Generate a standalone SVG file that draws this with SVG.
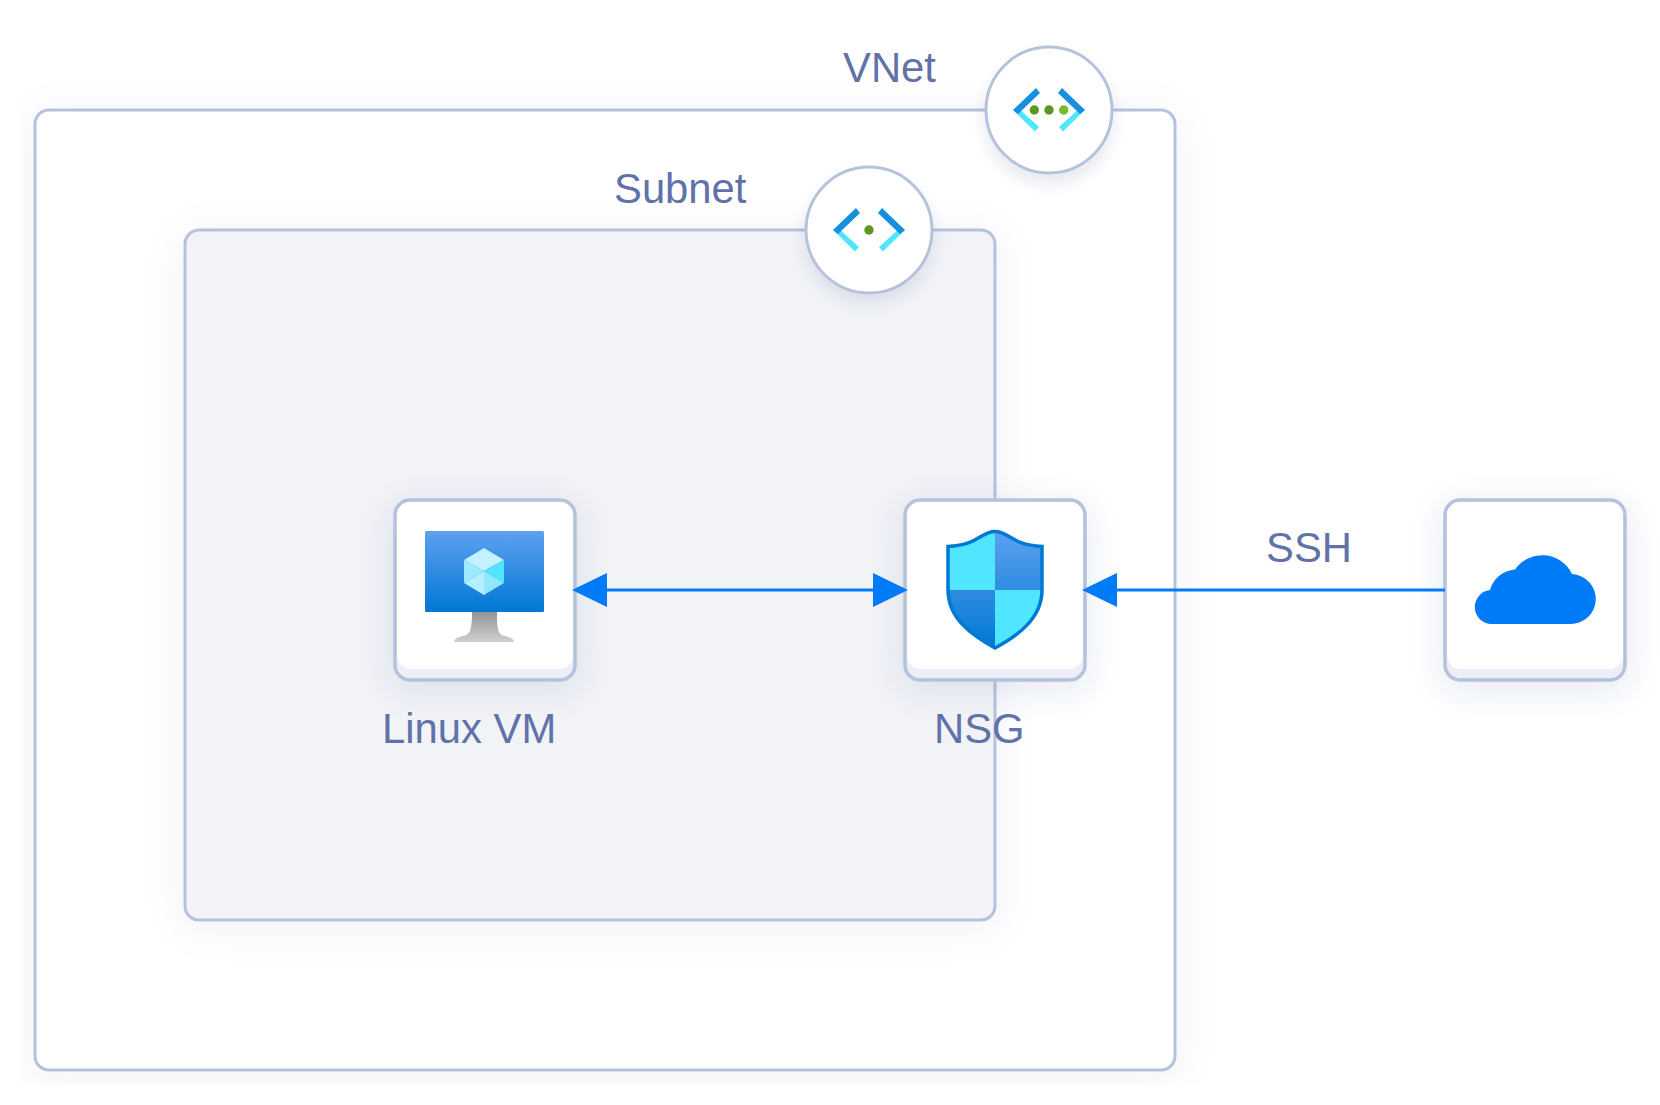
<svg xmlns="http://www.w3.org/2000/svg" width="1660" height="1105" viewBox="0 0 1660 1105">
<style>
text{font-family:"Liberation Sans",Arial,sans-serif;font-size:41.800px;fill:#6172a9}
.edge{stroke:#b5c2dc;stroke-width:3}
.box{fill:#eceff7;stroke:#b5c2dc;stroke-width:3.500}
.circle{fill:#fff;stroke:#b5c2dc;stroke-width:3}
.conn{fill:none;stroke:#007bf7;stroke-width:3}
.dark{fill:#1490df}.light{fill:#50e6ff}.dot{fill:#5e9624}
</style>
<defs>
<filter id="soft" filterUnits="userSpaceOnUse" x="20" y="60" width="1640" height="1025">
<feDropShadow dx="0" dy="6" stdDeviation="20" flood-color="#2f3f7f" flood-opacity="0.06"/>
</filter>
<filter id="boxShadow" x="-30%" y="-30%" width="160%" height="165%">
<feDropShadow dx="0" dy="8" stdDeviation="16" flood-color="#2f3f7f" flood-opacity="0.12"/>
</filter>
<filter id="circShadow" x="-25%" y="-25%" width="150%" height="155%">
<feDropShadow dx="0" dy="9" stdDeviation="7" flood-color="#2f3f7f" flood-opacity="0.12"/>
</filter>
<marker id="arrow" markerUnits="userSpaceOnUse" markerWidth="35" markerHeight="34" refX="2" refY="17" orient="auto-start-reverse">
<path d="M0 0L35 17L0 34Z" fill="#007bf7"/>
</marker>
<linearGradient id="screen" x1="0" y1="0" x2="0" y2="1"><stop offset="0" stop-color="#5ea0ef"/><stop offset="1" stop-color="#0078d4"/></linearGradient>
<linearGradient id="stand" x1="0" y1="0" x2="0" y2="1"><stop offset="0" stop-color="#949494"/><stop offset="1" stop-color="#cfcfcf"/></linearGradient>
<linearGradient id="shield" gradientUnits="userSpaceOnUse" x1="0" y1="531" x2="0" y2="648"><stop offset="0" stop-color="#5ea0ef"/><stop offset="1" stop-color="#0078d4"/></linearGradient>
<clipPath id="shieldClip"><path d="M995 531.500C981 531.500 979 545 948 546.500V590C948 620 975 637 995 648C1015 637 1042 620 1042 590V546.500C1011 545 1009 531.500 995 531.500Z"/></clipPath>
</defs>

<g id="vnet">
<rect x="35" y="110" width="1140" height="960" rx="14" fill="#fff" class="edge" filter="url(#soft)"/>
<text x="843" y="82">VNet</text>
</g>
<g id="subnet">
<rect x="185" y="230" width="810" height="690" rx="14" fill="#f2f3f7" class="edge" filter="url(#soft)"/>
<text x="614" y="203">Subnet</text>
</g>
<g id="vnet-icon">
<circle cx="1049" cy="110" r="63" class="circle" filter="url(#circShadow)"/>
<path class="light" d="M1017 107L1039 127L1035 131.500L1013 110Z"/>
<path class="dark" d="M1013 110L1036 88L1040 93L1018 114Z"/>
<path class="light" d="M1081 107L1059 127L1063 131.500L1085 110Z"/>
<path class="dark" d="M1085 110L1062 88L1058 93L1080 114Z"/>
<circle class="dot" cx="1034.300" cy="110" r="4.700"/><circle class="dot" cx="1049" cy="110" r="4.700"/><circle cx="1063.700" cy="110" r="4.700" fill="#76bc2d"/>
</g>
<g id="subnet-icon">
<circle cx="869" cy="230" r="63" class="circle" filter="url(#circShadow)"/>
<path class="light" d="M837 227L859 247L855 251.500L833 230Z"/>
<path class="dark" d="M833 230L856 208L860 213L838 234Z"/>
<path class="light" d="M901 227L879 247L883 251.500L905 230Z"/>
<path class="dark" d="M905 230L882 208L878 213L900 234Z"/>
<circle class="dot" cx="869" cy="230" r="4.700"/>
</g>

<g id="linux-vm">
<rect x="395" y="500" width="180" height="180" rx="15" class="box" filter="url(#boxShadow)"/>
<path d="M397 514A13 13 0 0 1 410 502H560A13 13 0 0 1 573 514V655A14 14 0 0 1 559 669H411A14 14 0 0 1 397 655Z" fill="#fff"/>
<path d="M472 612H497C497 630 498 635 505 636C510 637 514 639 514 642H454C454 639 458 637 463 636C470 635 472 630 472 612Z" fill="url(#stand)"/>
<rect x="425" y="531" width="119" height="81" rx="1.500" fill="url(#screen)"/>
<path d="M484 548L504 560L484 571L464 560Z" fill="#c3f1ff"/>
<path d="M464 560L484 571L464 583Z" fill="#9cebff"/>
<path d="M504 560L484 571L504 583Z" fill="#50e6ff"/>
<path d="M464 583L484 571V595Z" fill="#b3efff"/>
<path d="M504 583L484 571V595Z" fill="#8fe8ff"/>
<text x="382" y="743">Linux VM</text>
</g>

<g id="nsg">
<rect x="905" y="500" width="180" height="180" rx="15" class="box" filter="url(#boxShadow)"/>
<path d="M907 514A13 13 0 0 1 920 502H1070A13 13 0 0 1 1083 514V655A14 14 0 0 1 1069 669H921A14 14 0 0 1 907 655Z" fill="#fff"/>
<g clip-path="url(#shieldClip)">
<rect x="945" y="528" width="50" height="62" fill="#50e6ff"/>
<rect x="995" y="528" width="50" height="62" fill="url(#shield)"/>
<rect x="945" y="590" width="50" height="62" fill="url(#shield)"/>
<rect x="995" y="590" width="50" height="62" fill="#50e6ff"/>
</g>
<path d="M995 531.500C981 531.500 979 545 948 546.500V590C948 620 975 637 995 648C1015 637 1042 620 1042 590V546.500C1011 545 1009 531.500 995 531.500Z" fill="none" stroke="#0078d4" stroke-width="3.500"/>
<text x="934" y="743">NSG</text>
</g>

<g id="internet">
<rect x="1445" y="500" width="180" height="180" rx="15" class="box" filter="url(#boxShadow)"/>
<path d="M1447 514A13 13 0 0 1 1460 502H1610A13 13 0 0 1 1623 514V655A14 14 0 0 1 1609 669H1461A14 14 0 0 1 1447 655Z" fill="#fff"/>
<path d="M1492 624A17 17 0 0 1 1490.500 590.100A28 28 0 0 1 1515.500 569.500A33 33 0 0 1 1572.500 574A25 25 0 0 1 1570 624Z" fill="#007bf7" transform="translate(-0.500 0)"/>
</g>

<g id="connectors">
<line class="conn" x1="605" y1="590" x2="875" y2="590" marker-start="url(#arrow)" marker-end="url(#arrow)"/>
<line class="conn" x1="1445" y1="590" x2="1115" y2="590" marker-end="url(#arrow)"/>
<text x="1266" y="562">SSH</text>
</g>
</svg>
